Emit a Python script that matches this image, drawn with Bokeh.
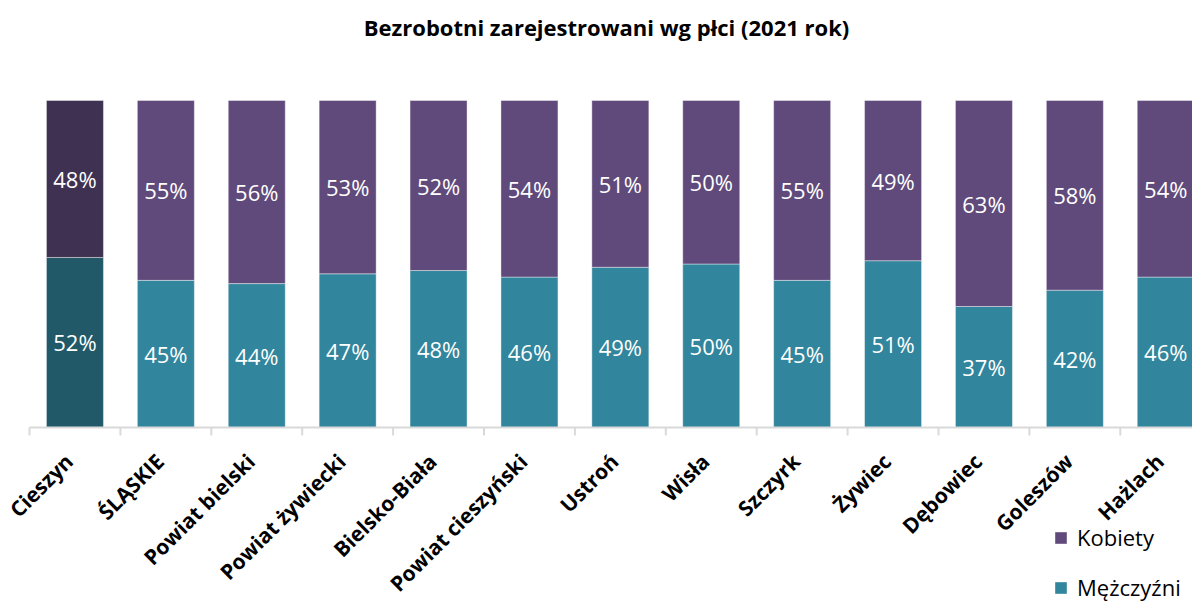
from bokeh.plotting import figure
from bokeh.models import ColumnDataSource, Range1d, Legend, LegendItem
from bokeh.core.properties import value
from bokeh.embed import file_html
from bokeh.resources import INLINE
import math

categories = ["Cieszyn", "ŚLĄSKIE", "Powiat bielski", "Powiat żywiecki", "Bielsko-Biała",
              "Powiat cieszyński", "Ustroń", "Wisła", "Szczyrk", "Żywiec", "Dębowiec",
              "Goleszów", "Hażlach"]
mezczyzni = [52, 45, 44, 47, 48, 46, 49, 50, 45, 51, 37, 42, 46]
kobiety = [48, 55, 56, 53, 52, 54, 51, 50, 55, 49, 63, 58, 54]
title = "Bezrobotni zarejestrowani wg płci (2021 rok)"

teal = "#31859C"
purple = "#604A7B"
teal_dark = "#215968"
purple_dark = "#3F3151"
axis_gray = "#D9D9D9"

n = len(categories)
xs = [i + 0.5 for i in range(n)]
m_col = [teal_dark if i == 0 else teal for i in range(n)]
k_col = [purple_dark if i == 0 else purple for i in range(n)]
tot = [a + b for a, b in zip(mezczyzni, kobiety)]
m_top = [m / t for m, t in zip(mezczyzni, tot)]
src = ColumnDataSource(dict(
    x=xs, m0=[0] * n, m1=m_top, k1=[1] * n,
    mc=m_col, kc=k_col,
    my=[v / 2 for v in m_top], ky=[(v + 1) / 2 for v in m_top],
    ml=[f"{v}%" for v in mezczyzni], kl=[f"{v}%" for v in kobiety],
    cat=categories, zero=[0] * n,
))

W, H = 1192, 607
left, top = 29, 100
px_per_unit = 327.0
px_per_cat = 90.9
ymax = 1 + top / px_per_unit
ymin = -(H - top - px_per_unit) / px_per_unit
xmin = -left / px_per_cat
xmax = (W - left) / px_per_cat

p = figure(width=W, height=H, output_backend="svg", toolbar_location=None,
           x_range=Range1d(xmin, xmax), y_range=Range1d(ymin, ymax),
           y_axis_location=None, x_axis_location=None,
           min_border_left=0, min_border_right=0, min_border_top=0,
           min_border_bottom=0)
p.outline_line_color = None
p.xgrid.visible = False
p.ygrid.visible = False
p.background_fill_color = "white"

# chart title, centred on the page
p.text(x=[(606 - left) / px_per_cat], y=[ymax], text=[title],
       text_font=value("Open Sans"), text_font_style="bold", text_font_size="22px",
       text_color="black", text_align="center", text_baseline="middle",
       y_offset=26)

rm = p.vbar(x="x", bottom="m0", top="m1", width=0.627, fill_color="mc",
            line_color="white", line_alpha=0.4, line_width=1, source=src)
rk = p.vbar(x="x", bottom="m1", top="k1", width=0.627, fill_color="kc",
            line_color="white", line_alpha=0.4, line_width=1, source=src)

p.text(x="x", y="my", text="ml", source=src, text_color="white",
       text_font=value("Open Sans"), text_font_size="22px",
       text_align="center", text_baseline="middle")
p.text(x="x", y="ky", text="kl", source=src, text_color="white",
       text_font=value("Open Sans"), text_font_size="22px",
       text_align="center", text_baseline="middle")

# category axis (drawn in data space at y=0)
bounds = list(range(n + 1))
p.segment(x0=[0], y0=[0], x1=[n], y1=[0], line_color=axis_gray, line_width=2)
p.segment(x0=bounds, y0=[0] * len(bounds), x1=bounds, y1=[-8 / px_per_unit] * len(bounds),
          line_color=axis_gray, line_width=2)
p.text(x="x", y="zero", text="cat", source=src, angle=math.pi / 4,
       text_font=value("Open Sans"), text_font_style="bold", text_font_size="21px",
       text_color="black", text_align="right", text_baseline="middle",
       x_offset=-6, y_offset=30)

legend = Legend(items=[LegendItem(label="Kobiety", renderers=[rk], index=1),
                       LegendItem(label="Mężczyźni", renderers=[rm], index=1)],
                location=(1053, 5), orientation="vertical",
                glyph_width=15, glyph_height=15, spacing=20, label_height=24,
                padding=0, margin=0,
                label_text_font="Open Sans", label_text_font_size="22px",
                label_text_color="black",
                label_standoff=9, border_line_color=None,
                background_fill_alpha=0)
p.add_layout(legend, "center")

open("out.html", "w").write(file_html(p, INLINE))
